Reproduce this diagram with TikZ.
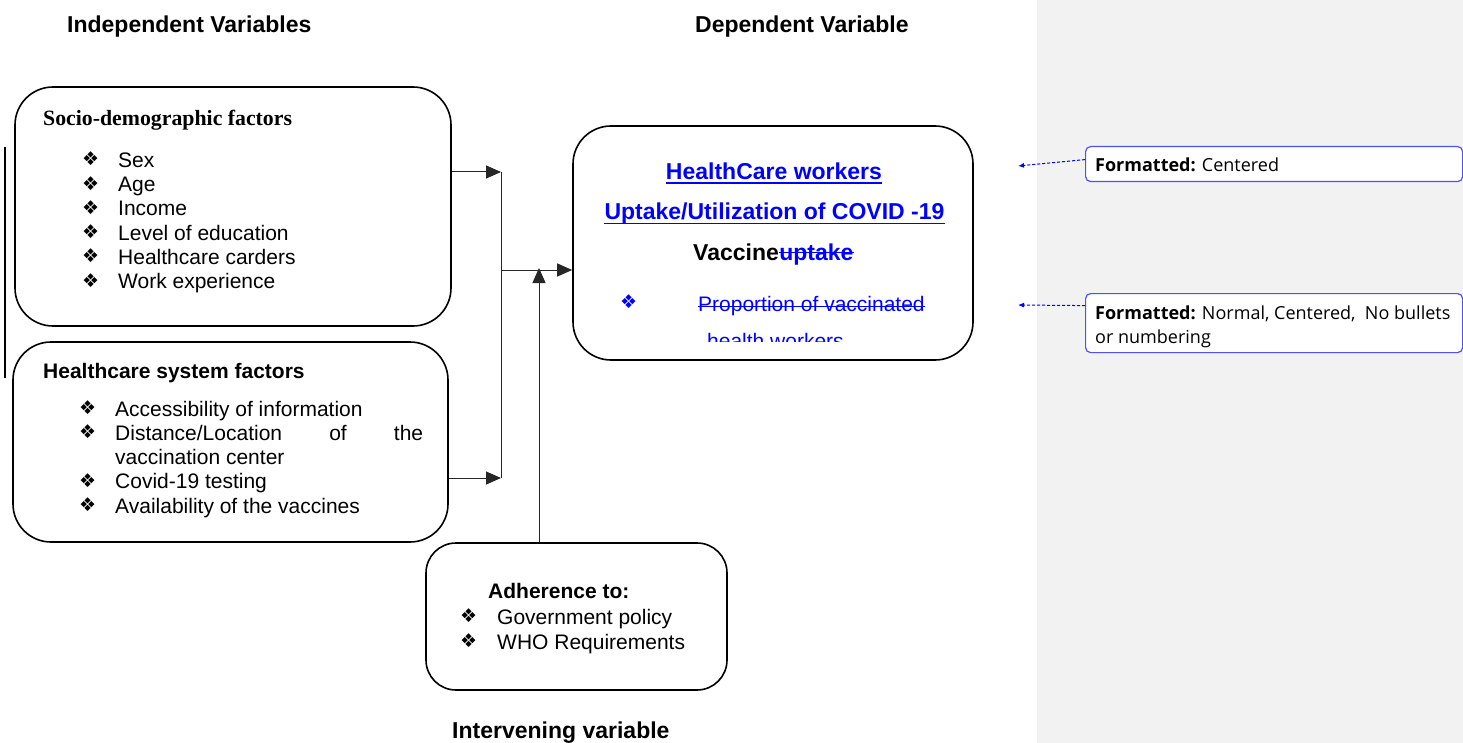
\documentclass[tikz,border=0pt]{standalone}
\usepackage{fontspec}
\setmainfont{Liberation Sans}
\newfontfamily\titlefont{Liberation Serif}
\newfontfamily\symfont{DejaVu Sans}
\newfontfamily\cmtfont{Open Sans}
\usetikzlibrary{arrows.meta}
\definecolor{panelgray}{RGB}{242,242,242}
\definecolor{cmtblue}{RGB}{80,80,250}
\definecolor{trackblue}{RGB}{0,0,255}
\newcommand{\bul}[1][36pt]{\makebox[#1][l]{\raisebox{1.5pt}{\symfont\fontsize{19}{19}\selectfont ❖}}}

\begin{document}
\begin{tikzpicture}[x=1pt,y=-1pt,
  box/.style={draw,line width=1.6pt,rounded corners=38pt,inner sep=0pt},
  head/.style={anchor=base west,inner sep=0pt,font=\fontsize{23}{27}\selectfont\bfseries},
  txt/.style={anchor=base west,inner sep=0pt,font=\fontsize{21}{24.3}\selectfont},
  subhead/.style={txt,font=\fontsize{21}{24.3}\selectfont\bfseries},
  dvtxt/.style={anchor=base,inner sep=0pt,font=\fontsize{23}{27}\selectfont\bfseries},
  editline/.style={draw=trackblue,line width=1.6pt},
  link/.style={line width=1pt,draw=black!85},
  tip/.style={link,-{Triangle[length=15pt,width=13pt]}},
  cmt/.style={draw=cmtblue,line width=1.2pt,rounded corners=5pt,fill=white,inner sep=0pt,anchor=north west,minimum width=377pt},
  cmttxt/.style={anchor=base west,inner sep=0pt,font=\cmtfont\fontsize{18}{24}\selectfont},
  cmtline/.style={draw=trackblue,line width=1pt,dash pattern=on 3pt off 2pt,-{Latex[length=6pt,width=5pt]}}]

  \clip (0,0) rectangle (1463,743);
  % comment pane
  \fill[panelgray] (1037,0) rectangle (1463,743);

  % headings
  \node[head] (indep) at (67,33) {Independent Variables};
  \node[head] (dep) at (695,33) {Dependent Variable};
  \node[head] (interv) at (452,738.3) {Intervening variable};

  % change bar
  \draw[line width=1.6pt] (5,147) -- (5,378);

  % socio-demographic factors
  \node[box,minimum width=436pt,minimum height=239pt] (socio) at (233,206.5) {};
  \node[anchor=base west,inner sep=0pt,font=\titlefont\bfseries\fontsize{21.8}{24}\selectfont] (sociohead) at (43,126) {Socio-demographic factors};
  \foreach \t [count=\i] in {Sex,Age,Income,Level of education,Healthcare carders,Work experience}
    \node[txt] (socio\i) at (82,143.3+24.2*\i) {\bul\t};

  % healthcare system factors
  \node[box,minimum width=435pt,minimum height=200pt] (hsys) at (230.5,442) {};
  \node[subhead] (hsyshead) at (43,378.3) {Healthcare system factors};
  \node[txt] (hsys1) at (79,416) {\bul Accessibility of information};
  \node[txt] (hsys2) at (79,440.3) {\bul\makebox[308pt][s]{Distance/Location of the}};
  \node[txt] (hsys3) at (115,464.6) {vaccination center};
  \node[txt] (hsys4) at (79,488.9) {\bul Covid-19 testing};
  \node[txt] (hsys5) at (79,513.2) {\bul Availability of the vaccines};

  % dependent variable
  \node[box,minimum width=400pt,minimum height=234pt] (uptake) at (773,243) {};
  \node[dvtxt,text=trackblue] (dv1) at (774,180) {HealthCare workers};
  \node[dvtxt,text=trackblue] (dv2) at (774.5,220) {Uptake/Utilization of COVID -19};
  \draw[editline] ([yshift=-3pt]dv1.base west) -- ([yshift=-3pt]dv1.base east);
  \draw[editline] ([yshift=-3.5pt]dv2.base west) -- ([yshift=-3.5pt]dv2.base east);
  \node[dvtxt,anchor=base west] (dv3) at (693,260) {Vaccine};
  \node[dvtxt,anchor=base west,text=trackblue] (dv3b) at (dv3.base east) {uptake};
  \draw[editline] ([yshift=7.5pt]dv3b.base west) -- ([yshift=7.5pt]dv3b.base east);
  \node[txt,text=trackblue] (dv4b) at (620,310) {\bul[1pt]};
  \node[txt,text=trackblue] (dv4) at (698,311.7) {Proportion of vaccinated};
  \draw[editline,line width=1.4pt] ([yshift=5pt]dv4.base west) -- ([yshift=5pt]dv4.base east);
  \begin{scope}
    \clip (580,300) rectangle (960,341.7);
    \node[txt,text=trackblue] (dv5) at (707,348.6) {health workers};
  \end{scope}

  % intervening variable
  \node[box,rounded corners=30pt,minimum width=301pt,minimum height=147pt] (adher) at (576.5,616.5) {};
  \node[subhead] (adherhead) at (488,598) {Adherence to:};
  \node[txt] (adher1) at (460,624.3) {\bul[37pt]Government policy};
  \node[txt] (adher2) at (460,649.3) {\bul[37pt]WHO Requirements};

  % connectors
  \coordinate (jtop) at (501,172);
  \coordinate (jbot) at (501,478);
  \coordinate (jmid) at (501,270);
  \coordinate (jup) at (539,268);
  \draw[tip] (socio.east |- jtop) -- (jtop);
  \draw[tip] (hsys.east |- jbot) -- (jbot);
  \draw[link] (jtop) -- (jbot);
  \draw[tip] (jmid) -- (jmid -| uptake.west);
  \draw[tip] (adher.north -| jup) -- (jup);

  % comments
  \node[cmt,minimum height=35pt] (fmtA) at (1085,146) {};
  \node[cmttxt] (fmtAtxt) at (1095,171.7) {\textbf{Formatted:} Centered};
  \node[cmt,minimum height=59pt] (fmtB) at (1085,293) {};
  \node[cmttxt] (fmtBtxt) at (1095,319.3) {\textbf{Formatted:} Normal, Centered,\ \ No bullets};
  \node[cmttxt] (fmtBtxt2) at (1095,343.3) {or numbering};
  \coordinate (refA) at (1018,166);
  \coordinate (refB) at (1018,305);
  \draw[cmtline] ([yshift=4.5pt]fmtA.west) -- (refA);
  \draw[cmtline] ([yshift=17.5pt]fmtB.west) -- (refB);
\end{tikzpicture}
\end{document}
